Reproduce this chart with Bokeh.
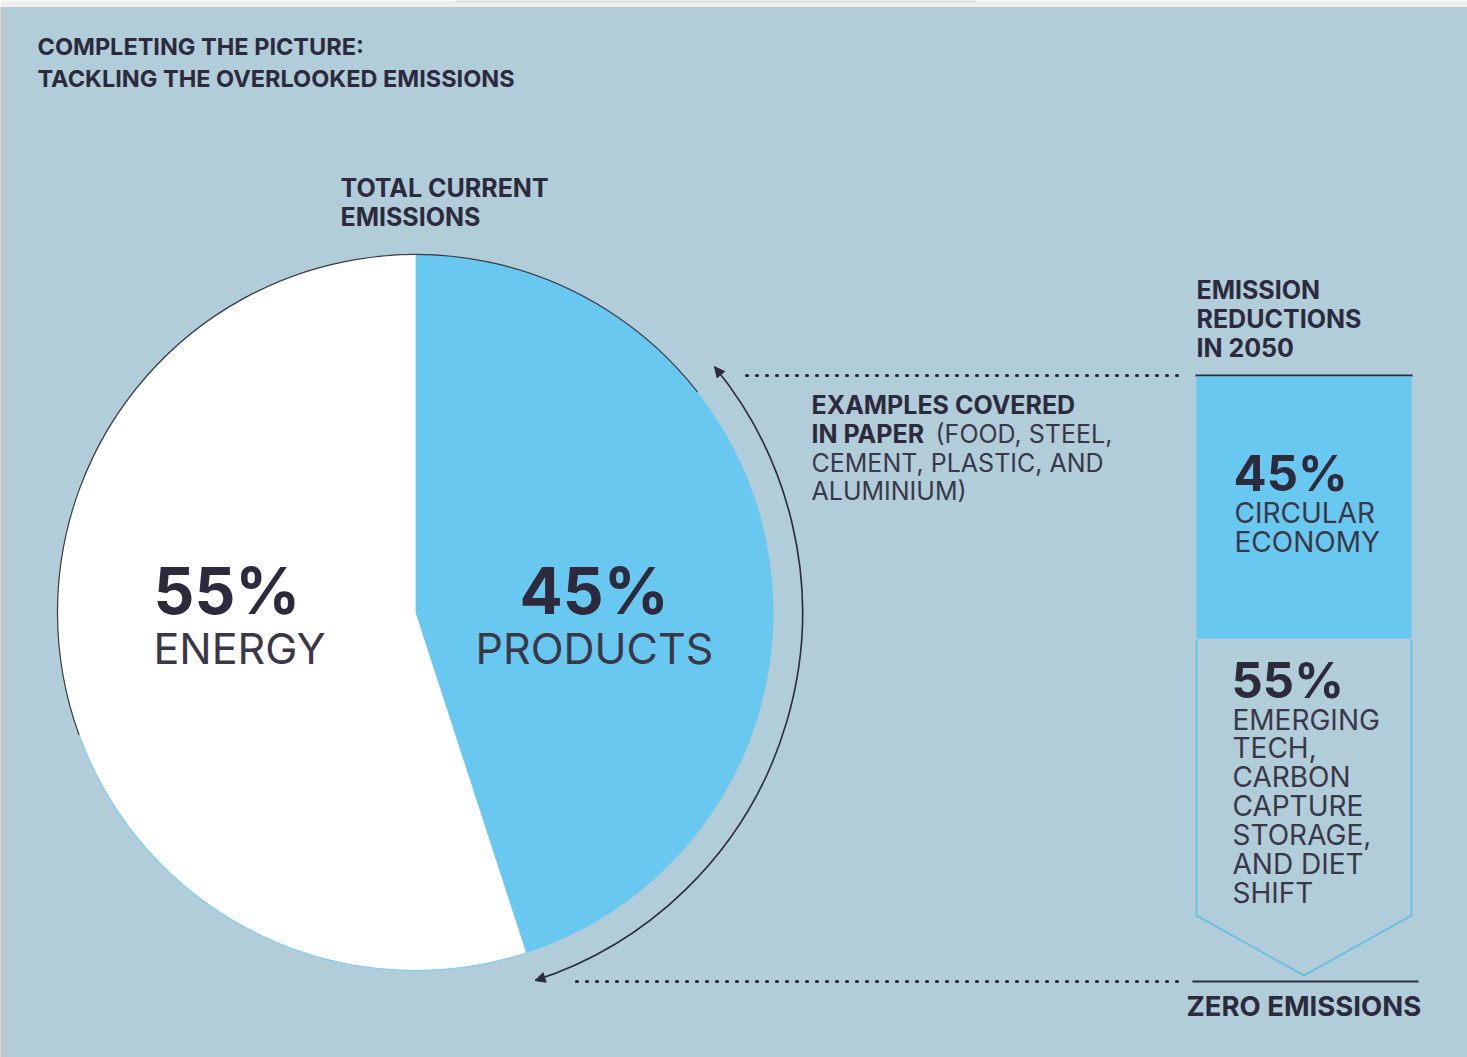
import math
from bokeh.plotting import figure
from bokeh.models import Range1d, Arrow, NormalHead
from bokeh.core.properties import value
from bokeh.embed import file_html
from bokeh.resources import INLINE

# ---------------- data ----------------
pie_labels = ["ENERGY", "PRODUCTS"]
pie_values = [55, 45]
reduction_labels = ["CIRCULAR\nECONOMY", "EMERGING\nTECH,\nCARBON\nCAPTURE\nSTORAGE,\nAND DIET\nSHIFT"]
reduction_values = [45, 55]

W, H = 1467, 1057
def Y(yp):
    return H - yp

NAVY = "#2d2a3e"
GREY_TXT = "#3a3848"
BLUE = "#69c8f0"
BG = "#b0cdd9"
FONT = value("Inter")

p = figure(width=W, height=H, output_backend="svg", toolbar_location=None,
           x_range=Range1d(0, W), y_range=Range1d(0, H), min_border=0)
p.axis.visible = False
p.grid.visible = False
p.outline_line_color = None
p.background_fill_color = "#efefef"
p.border_fill_color = "#efefef"

# screenshot frame pieces
p.quad(left=0, right=5, bottom=0, top=H - 7, color="#c4c7c8")
p.quad(left=455, right=975, bottom=Y(2), top=H, color="#e2e2e2")
p.quad(left=5, right=W, bottom=0, top=Y(7), color=BG)

# ---------------- pie ----------------
cx, cy, r = 415, Y(612), 358
total = sum(pie_values)
prod_span = pie_values[1] / total * 2 * math.pi
en_span = pie_values[0] / total * 2 * math.pi
top = math.pi / 2
p.wedge(x=[cx], y=[cy], radius=r, start_angle=[top - prod_span], end_angle=[top],
        color=BLUE, line_color=None)
p.wedge(x=[cx], y=[cy], radius=r, start_angle=[top], end_angle=[top + en_span],
        color="white", line_color=None)
p.arc(x=[cx], y=[cy], radius=r, start_angle=math.radians(38), end_angle=math.radians(200),
      line_color="#3a3a44", line_width=1.2)
p.arc(x=[cx], y=[cy], radius=r, start_angle=math.radians(200), end_angle=top + en_span,
      line_color="#7fcdf0", line_width=1.2)

def txt(x, yp, t, size, bold=False, color=GREY_TXT):
    p.text(x=[x], y=[Y(yp)], text=[t], text_font=FONT, text_font_size=size,
           text_font_style="bold" if bold else "normal", text_color=color,
           text_baseline="middle", text_align="left")

# pie labels
txt(153, 590, f"{pie_values[0]}%", "64px", True, NAVY)
txt(153, 647, pie_labels[0], "43px")
txt(519, 590, f"{pie_values[1]}%", "64px", True, NAVY)
txt(475, 647, pie_labels[1], "43px")

# ---------------- curved double arrow ----------------
ra = 387
a1 = math.radians(39.4)
a2 = top - prod_span
p.arc(x=[cx], y=[cy], radius=ra, start_angle=a2, end_angle=a1, line_color=NAVY, line_width=1.6)
for a, sgn in ((a1, 1), (a2, -1)):
    ex, ey = cx + ra * math.cos(a), cy + ra * math.sin(a)
    tx, ty = -math.sin(a) * sgn, math.cos(a) * sgn
    p.add_layout(Arrow(end=NormalHead(size=10, fill_color=NAVY, line_color=NAVY),
                       x_start=ex - 6 * tx, y_start=ey - 6 * ty, x_end=ex, y_end=ey,
                       line_color=NAVY, line_width=1.5))

# ---------------- dotted guide lines ----------------
p.line(x=[746, 1185], y=[Y(375), Y(375)], line_color=NAVY, line_width=3.2,
       line_dash="1 9", line_cap="round")
p.line(x=[576, 1185], y=[Y(981), Y(981)], line_color=NAVY, line_width=3.2,
       line_dash="1 9", line_cap="round")
p.line(x=[1195, 1412], y=[Y(375), Y(375)], line_color=NAVY, line_width=2)
p.line(x=[1192, 1418], y=[Y(981), Y(981)], line_color=NAVY, line_width=2)

# ---------------- right reduction bar ----------------
bl, br = 1196, 1411
btop = 376
blen = 582
split = btop + reduction_values[0] / sum(reduction_values) * blen
p.quad(left=bl, right=br, top=Y(btop), bottom=Y(split), color=BLUE, line_color=None)
shoulder, tip = 915, 975
p.line(x=[bl, bl, (bl + br) / 2, br, br], y=[Y(split + 2), Y(shoulder), Y(tip), Y(shoulder), Y(split + 2)],
       line_color="#5fbde6", line_width=1.5)

txt(1233, 473, f"{reduction_values[0]}%", "49px", True, NAVY)
for i, ln in enumerate(reduction_labels[0].split("\n")):
    txt(1234, 512 + 29 * i, ln, "28px")
txt(1231, 680, f"{reduction_values[1]}%", "49px", True, NAVY)
for i, ln in enumerate(reduction_labels[1].split("\n")):
    txt(1232, 719 + 28.9 * i, ln, "28px")

# ---------------- headings ----------------
txt(37, 46, "COMPLETING THE PICTURE:", "23.5px", True, NAVY)
txt(37, 78, "TACKLING THE OVERLOOKED EMISSIONS", "23.5px", True, NAVY)
txt(340, 187, "TOTAL CURRENT", "25px", True, NAVY)
txt(340, 216, "EMISSIONS", "25px", True, NAVY)
txt(1196, 289, "EMISSION", "25px", True, NAVY)
txt(1196, 318, "REDUCTIONS", "25px", True, NAVY)
txt(1196, 347, "IN 2050", "25px", True, NAVY)
txt(811, 404, "EXAMPLES COVERED", "25px", True, NAVY)
txt(811, 433, "IN PAPER", "25px", True, NAVY)
txt(935, 433, "(FOOD, STEEL,", "25px")
txt(811, 462, "CEMENT, PLASTIC, AND", "25px")
txt(811, 490, "ALUMINIUM)", "25px")
txt(1186, 1005, "ZERO EMISSIONS", "27.5px", True, NAVY)

open("out.html", "w").write(file_html(p, INLINE))
